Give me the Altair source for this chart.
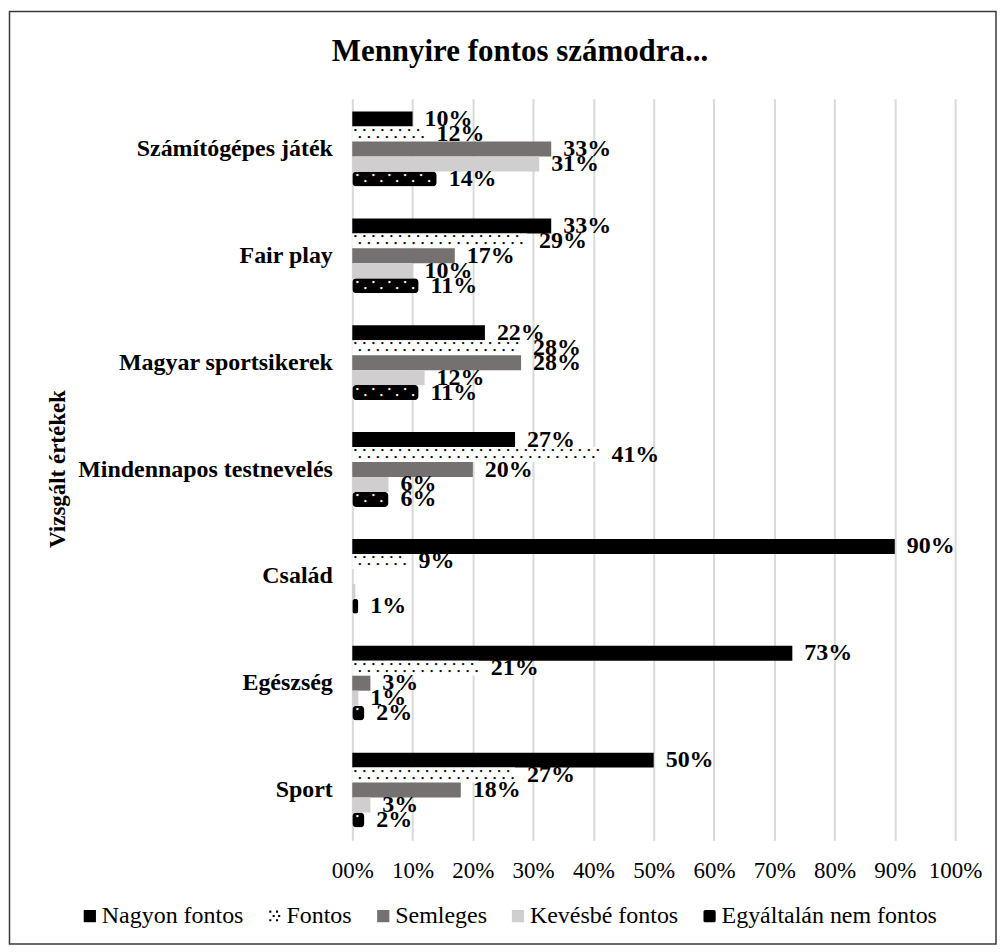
import altair as alt
import pandas as pd

title_text = "Mennyire fontos számodra..."
y_title_text = "Vizsgált értékek"

categories = [
    "Számítógépes játék",
    "Fair play",
    "Magyar sportsikerek",
    "Mindennapos testnevelés",
    "Család",
    "Egészség",
    "Sport",
]
series = ["Nagyon fontos", "Fontos", "Semleges", "Kevésbé fontos", "Egyáltalán nem fontos"]

nagyon_fontos = [10, 33, 22, 27, 90, 73, 50]
fontos = [12, 29, 28, 41, 9, 21, 27]
semleges = [33, 17, 28, 20, 0, 3, 18]
kevesbe_fontos = [31, 10, 12, 6, 0.5, 1, 3]
egyaltalan_nem_fontos = [14, 11, 11, 6, 1, 2, 2]

x_ticks = [0, 10, 20, 30, 40, 50, 60, 70, 80, 90, 100]

series_colors = ["#000000", "#000000", "#767171", "#D0CECE", "#000000"]

FONT = "Liberation Serif"
W, H = 604, 743
PX = W / 100.0

series_values = dict(zip(series, [nagyon_fontos, fontos, semleges, kevesbe_fontos, egyaltalan_nem_fontos]))
series_color_map = dict(zip(series, series_colors))

rows = []
for s, vals in series_values.items():
    for c, v in zip(categories, vals):
        rows.append({"category": c, "series": s, "value": v, "label": f"{v:.0f}%"})
df = pd.DataFrame(rows)


def dot_table(series_name, step_px, start_px, stagger_px, margin_px):
    out = []
    for c, v in zip(categories, series_values[series_name]):
        end_px = v * PX - margin_px
        for i, row in enumerate(["a", "b"]):
            x_px = start_px + i * stagger_px
            while x_px < end_px:
                out.append({"category": c, "series": series_name, "value": x_px / PX, "row": row})
                x_px += step_px
    return pd.DataFrame(out)


dots_fontos = dot_table("Fontos", 9.0, 3.0, 4.5, 1.5)
dots_egy = dot_table("Egyáltalán nem fontos", 16.0, 5.0, 8.0, 3.0)

x_enc = alt.X(
    "value:Q",
    scale=alt.Scale(domain=[0, 100], nice=False, zero=True),
    axis=alt.Axis(
        values=x_ticks,
        labelExpr="datum.value == 0 ? '00%' : datum.value + '%'",
        labelOverlap=False,
        labelFlush=False,
        grid=True,
        gridColor="#d9d9d9",
        gridWidth=2,
        domain=False,
        ticks=False,
        labelFont=FONT,
        labelFontSize=23,
        labelColor="#000000",
        labelPadding=19,
        title=None,
    ),
)
y_enc = alt.Y(
    "category:N",
    sort=categories,
    scale=alt.Scale(domain=categories, paddingInner=0.3, paddingOuter=0.12),
    axis=alt.Axis(
        domain=False,
        ticks=False,
        grid=False,
        labelFont=FONT,
        labelFontSize=24,
        labelFontWeight="bold",
        labelColor="#000000",
        labelPadding=20,
        labelLimit=400,
        title=None,
    ),
)
yoff_enc = alt.YOffset(
    "series:N",
    sort=series,
    scale=alt.Scale(domain=series, paddingInner=0, paddingOuter=0),
)

base = alt.Chart(df)


def bar_layer(series_name, fill, radius=0):
    return base.transform_filter(alt.datum.series == series_name).mark_bar(
        color=fill, cornerRadius=radius
    ).encode(x=x_enc, y=y_enc, yOffset=yoff_enc)


bars = [
    bar_layer("Nagyon fontos", series_color_map["Nagyon fontos"]),
    bar_layer("Fontos", "#ffffff"),
    bar_layer("Semleges", series_color_map["Semleges"]),
    bar_layer("Kevésbé fontos", series_color_map["Kevésbé fontos"]),
    bar_layer("Egyáltalán nem fontos", series_color_map["Egyáltalán nem fontos"], radius=4),
]


def dots_layer(table, row, dy, ink):
    return alt.Chart(table).transform_filter(alt.datum.row == row).mark_text(
        text="•", font="DejaVu Sans", fontSize=8, dy=dy, color=ink, align="center", baseline="middle"
    ).encode(x=x_enc, y=y_enc, yOffset=yoff_enc)


dots = [
    dots_layer(dots_fontos, "a", -3.5, "#000000"),
    dots_layer(dots_fontos, "b", 3.5, "#000000"),
    dots_layer(dots_egy, "a", -3, "#ffffff"),
    dots_layer(dots_egy, "b", 3, "#ffffff"),
]

labels = base.transform_filter(alt.datum.value >= 1).mark_text(
    align="left", baseline="middle", dx=12, font=FONT, fontSize=24, fontWeight="bold", color="#000000"
).encode(
    x=x_enc, y=y_enc, yOffset=yoff_enc, text="label:N",
)

dotted_path = " ".join(
    f"M{x},{y}h0.34v0.34h-0.34z"
    for x, y in [(-0.85, -0.9), (0.25, -0.9), (-0.3, -0.2), (0.6, -0.2), (-0.85, 0.5), (0.25, 0.5)]
)
rounded_path = "M-0.7,-1H0.7Q1,-1 1,-0.7V0.7Q1,1 0.7,1H-0.7Q-1,1 -1,0.7V-0.7Q-1,-1 -0.7,-1Z"
legend_shapes = ["square", dotted_path, "square", "square", rounded_path]

legend_layer = alt.Chart(pd.DataFrame({"series": series})).transform_filter("false").mark_point(
    filled=True, opacity=1
).encode(
    x=alt.value(0),
    y=alt.value(0),
    color=alt.Color(
        "series:N",
        scale=alt.Scale(domain=series, range=series_colors),
        legend=alt.Legend(
            orient="none",
            legendX=-275,
            legendY=807,
            direction="horizontal",
            columns=5,
            title=None,
            labelFont=FONT,
            labelFontSize=24,
            labelColor="#000000",
            labelOffset=0,
            columnPadding=19,
            symbolSize=150,
            symbolOpacity=1,
            symbolStrokeWidth=0,
            labelLimit=400,
        ),
    ),
    shape=alt.Shape("series:N", scale=alt.Scale(domain=series, range=legend_shapes)),
)

one = pd.DataFrame({"k": [0]})
frame = alt.Chart(one).mark_rect(fillOpacity=0, stroke="#3a3a3a", strokeWidth=1.5).encode(
    x=alt.value(-343.5), x2=alt.value(645), y=alt.value(-87.5), y2=alt.value(847)
)
title = alt.Chart(one).mark_text(
    font=FONT, fontSize=31, fontWeight="bold", align="center", baseline="middle", color="#000000"
).encode(x=alt.value(168), y=alt.value(-47), text=alt.value(title_text))
ytitle = alt.Chart(one).mark_text(
    font=FONT, fontSize=23, fontWeight="bold", align="center", baseline="middle", angle=270, color="#000000"
).encode(x=alt.value(-295), y=alt.value(371), text=alt.value(y_title_text))

chart = alt.layer(
    frame, title, ytitle, *bars, *dots, labels, legend_layer
).properties(
    width=W, height=H, padding={"left": 0, "top": 1, "right": 0, "bottom": 0}
).configure_view(stroke=None)

chart.save("out.html", embed_options={"renderer": "svg", "actions": False})
